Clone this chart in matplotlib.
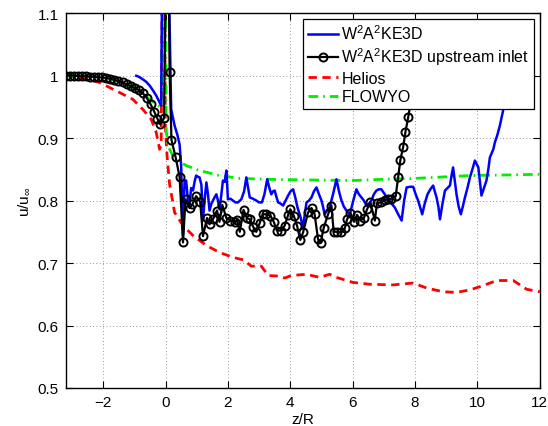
import numpy as np
import matplotlib
matplotlib.use("Agg")
import matplotlib.pyplot as plt

plt.rcParams['font.family'] = ['Liberation Sans', 'DejaVu Sans']
plt.rcParams['mathtext.fontset'] = 'custom'
plt.rcParams['mathtext.rm'] = 'Liberation Sans'
plt.rcParams['mathtext.it'] = 'Liberation Sans'

# W2A2KE3D (solid blue)
blue_z = [-0.94, -0.85, -0.73, -0.62, -0.51, -0.40, -0.30, -0.22, -0.14, -0.09, 0.05, 0.18,
          0.29, 0.38, 0.45, 0.50, 0.53, 0.56, 0.61, 0.66, 0.72, 0.77, 0.82, 0.88, 0.93, 0.98,
          1.04, 1.09, 1.15, 1.20, 1.25, 1.31, 1.36, 1.41, 1.47, 1.52, 1.57, 1.63, 1.68, 1.73,
          1.79, 1.84, 1.90, 1.95, 2.00, 2.08, 2.16, 2.24, 2.32, 2.43, 2.52, 2.59, 2.65, 2.70,
          2.80, 2.91, 3.00, 3.09, 3.17, 3.26, 3.33, 3.39, 3.45, 3.50, 3.56, 3.61, 3.69, 3.77,
          3.85, 3.93, 4.01, 4.09, 4.16, 4.23, 4.32, 4.41, 4.47, 4.52, 4.60, 4.68, 4.76, 4.84,
          4.92, 5.00, 5.05, 5.10, 5.18, 5.26, 5.37, 5.48, 5.56, 5.64, 5.72, 5.80, 5.91, 6.02,
          6.12, 6.20, 6.28, 6.36, 6.44, 6.52, 6.60, 6.68, 6.76, 6.84, 6.92, 7.03, 7.14, 7.25,
          7.35, 7.46, 7.57, 7.65, 7.73, 7.84, 7.94, 8.02, 8.10, 8.16, 8.23, 8.31, 8.40, 8.49,
          8.58, 8.63, 8.69, 8.75, 8.80, 8.88, 8.96, 9.04, 9.12, 9.17, 9.22, 9.28, 9.33, 9.40,
          9.47, 9.53, 9.60, 9.68, 9.76, 9.84, 9.92, 10.03, 10.08, 10.13, 10.21, 10.29, 10.35,
          10.40, 10.51, 10.56, 10.64, 10.72, 10.85, 11.00]
blue_u = [0.9997, 0.998, 0.994, 0.990, 0.984, 0.976, 0.968, 0.960, 0.952, 1.300, 1.300, 0.946,
          0.920, 0.905, 0.890, 0.856, 0.800, 0.745, 0.832, 0.832, 0.800, 0.794, 0.820, 0.816, 0.830, 0.840,
          0.838, 0.837, 0.825, 0.768, 0.800, 0.829, 0.810, 0.784, 0.795, 0.800, 0.805, 0.810, 0.800, 0.786,
          0.810, 0.832, 0.830, 0.848, 0.802, 0.803, 0.800, 0.797, 0.797, 0.802, 0.815, 0.837, 0.820, 0.805,
          0.803, 0.800, 0.797, 0.797, 0.810, 0.834, 0.820, 0.810, 0.815, 0.816, 0.805, 0.797, 0.795, 0.792,
          0.800, 0.808, 0.815, 0.818, 0.805, 0.789, 0.775, 0.757, 0.780, 0.797, 0.800, 0.805, 0.815, 0.821,
          0.810, 0.800, 0.790, 0.778, 0.785, 0.789, 0.810, 0.834, 0.815, 0.800, 0.790, 0.784, 0.778, 0.800,
          0.818, 0.810, 0.805, 0.800, 0.792, 0.795, 0.800, 0.810, 0.816, 0.818, 0.818, 0.810, 0.802, 0.795,
          0.789, 0.778, 0.768, 0.800, 0.821, 0.822, 0.822, 0.810, 0.800, 0.790, 0.778, 0.795, 0.810, 0.818,
          0.824, 0.815, 0.805, 0.790, 0.770, 0.795, 0.816, 0.820, 0.824, 0.840, 0.853, 0.830, 0.810, 0.790,
          0.778, 0.790, 0.805, 0.820, 0.837, 0.850, 0.864, 0.853, 0.830, 0.808, 0.820, 0.832, 0.850,
          0.869, 0.882, 0.893, 0.905, 0.920, 0.950, 0.985]

# W2A2KE3D with upstream inlet (black, circle markers)
black_z = [-3.20, -3.07, -2.94, -2.81, -2.68, -2.55, -2.42, -2.29, -2.16, -2.03, -1.90, -1.77,
           -1.64, -1.51, -1.38, -1.25, -1.12, -0.99, -0.86, -0.73, -0.60, -0.48, -0.36, -0.26,
           -0.17, -0.05, 0.03, 0.09, 0.13,
           0.19, 0.32, 0.45, 0.56, 0.64, 0.77, 0.86, 0.98, 1.11, 1.20, 1.33, 1.41, 1.52, 1.65,
           1.73, 1.82, 1.95, 2.08, 2.22, 2.29, 2.38, 2.50, 2.61, 2.70, 2.82, 2.91, 3.02, 3.12,
           3.23, 3.36, 3.47, 3.57, 3.71, 3.82, 3.93, 4.00, 4.11, 4.22, 4.32, 4.41, 4.57, 4.68,
           4.78, 4.89, 4.97, 5.07, 5.21, 5.32, 5.39, 5.50, 5.61, 5.75, 5.82, 5.93, 6.04, 6.14,
           6.25, 6.36, 6.46, 6.57, 6.71, 6.78, 6.92, 7.03, 7.14, 7.24, 7.38, 7.46, 7.53, 7.62,
           7.69, 7.78, 7.87, 7.96]
black_u = [1.000, 1.000, 1.000, 0.999, 0.999, 0.999, 0.998, 0.998, 0.997, 0.997, 0.996, 0.995,
           0.993, 0.991, 0.989, 0.986, 0.983, 0.980, 0.977, 0.972, 0.964, 0.954, 0.942, 0.931,
           0.922, 0.932, 1.250, 1.250, 1.005,
           0.897, 0.870, 0.838, 0.733, 0.802, 0.788, 0.794, 0.807, 0.798, 0.743, 0.772, 0.762, 0.770, 0.784,
           0.766, 0.793, 0.772, 0.768, 0.765, 0.769, 0.750, 0.785, 0.772, 0.770, 0.757, 0.750, 0.764, 0.778,
           0.778, 0.776, 0.766, 0.752, 0.752, 0.760, 0.777, 0.786, 0.776, 0.759, 0.737, 0.749, 0.781, 0.788,
           0.778, 0.738, 0.732, 0.756, 0.778, 0.792, 0.750, 0.750, 0.749, 0.756, 0.770, 0.780, 0.766, 0.777,
           0.768, 0.772, 0.786, 0.797, 0.768, 0.796, 0.797, 0.801, 0.802, 0.803, 0.807, 0.838, 0.865, 0.886,
           0.909, 0.933, 0.960, 0.990]

# Helios (red dashed)
red_z = [-3.20, -2.80, -2.40, -2.12, -1.80, -1.48, -1.05, -0.73, -0.46, -0.30, -0.19, -0.14,
         -0.09, -0.05, -0.01, 0.05, 0.13, 0.29, 0.56, 0.88, 1.31, 1.73, 2.16, 2.50, 2.75, 3.07,
         3.29, 3.66, 3.82, 4.03, 4.52, 4.94, 5.26, 5.48, 6.01, 6.55, 7.30, 7.94, 8.37, 8.90,
         9.33, 9.76, 10.19, 10.62, 11.15, 11.58, 12.00]
red_u = [1.000, 0.997, 0.993, 0.989, 0.981, 0.973, 0.962, 0.946, 0.930, 0.909, 0.882, 0.890,
         1.300, 1.300, 0.920, 0.870, 0.826, 0.781, 0.760, 0.744, 0.728, 0.717, 0.709, 0.705, 0.695, 0.695,
         0.680, 0.679, 0.676, 0.680, 0.682, 0.677, 0.682, 0.677, 0.669, 0.666, 0.665, 0.668, 0.660, 0.654,
         0.653, 0.657, 0.664, 0.672, 0.672, 0.658, 0.654]

# FLOWYO (green dash-dot)
green_z = [-3.20, -2.50, -2.12, -1.70, -1.26, -0.83, -0.51, -0.30, -0.14, -0.04, -0.02, 0.02,
           0.07, 0.23, 0.45, 0.66, 1.09, 1.73, 2.38, 3.23, 4.50, 6.01, 7.00, 7.83, 9.00, 9.76,
           11.00, 12.00]
green_u = [1.000, 0.999, 0.998, 0.994, 0.987, 0.976, 0.962, 0.954, 0.949, 1.300, 1.300, 0.914,
           0.888, 0.872, 0.862, 0.856, 0.848, 0.840, 0.8355, 0.834, 0.833, 0.832, 0.834, 0.835, 0.838, 0.840,
           0.841, 0.842]

x_ticks = [-2, 0, 2, 4, 6, 8, 10, 12]
y_ticks = [0.5, 0.6, 0.7, 0.8, 0.9, 1.0, 1.1]
y_ticklabels = ['0.5', '0.6', '0.7', '0.8', '0.9', '1', '1.1']

fig = plt.figure(figsize=(5.48, 4.27), dpi=100)
ax = fig.add_axes([0.120, 0.089, 0.865, 0.878])

ax.plot(blue_z, blue_u, color='#0000ff', lw=1.8, label=r'W$^2$A$^2$KE3D', zorder=3)
ax.plot(black_z, black_u, color='black', lw=1.6, marker='o', ms=5.8, mfc='none',
        mec='black', mew=1.4, label=r'W$^2$A$^2$KE3D upstream inlet', zorder=4)
ax.plot(red_z, red_u, color='#ff0000', lw=2.0, dashes=(3, 2),
        label='Helios', zorder=2)
ax.plot(green_z, green_u, color='#00ee00', lw=2.0, dashes=(3.5, 1.8, 0.6, 1.8),
        label='FLOWYO', zorder=2)

ax.set_xlim(-3.2, 12)
ax.set_ylim(0.5, 1.1)
ax.set_xticks(x_ticks)
ax.set_xticklabels([('\u2212' + str(-t)) if t < 0 else str(t) for t in x_ticks])
ax.set_yticks(y_ticks)
ax.set_yticklabels(y_ticklabels)
ax.tick_params(direction='in', top=True, right=True, length=5, width=0.8,
               labelsize=11, pad=5)
ax.grid(True, linestyle=(0, (1, 3)), color='#777777', lw=0.6)
for s in ax.spines.values():
    s.set_linewidth(1.0)

ax.set_xlabel('z/R', fontsize=11, labelpad=2)
ax.set_ylabel(r'u/u$_\infty$', fontsize=11, labelpad=4)

leg = ax.legend(loc='upper right', fontsize=11.5, frameon=True, fancybox=False,
                facecolor='white', edgecolor='black', framealpha=1.0,
                borderpad=0.3, labelspacing=0.22,
                handlelength=1.9, handletextpad=0.2, borderaxespad=0.35)
leg.get_frame().set_linewidth(0.9)
leg.set_zorder(20)

fig.savefig('out.png', dpi=100)
